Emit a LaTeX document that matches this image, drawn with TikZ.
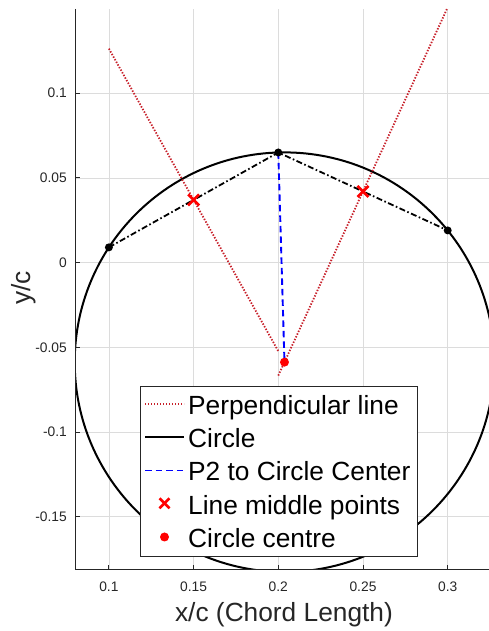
\documentclass[tikz,border=0pt]{standalone}
\usepackage{fontspec}
\setmainfont{Liberation Sans}
\usetikzlibrary{calc}
\definecolor{axgray}{HTML}{262626}
\definecolor{gridgray}{HTML}{DCDCDC}
\definecolor{perpred}{rgb}{0.78,0.12,0.16}
\tikzset{
  gridline/.style={gridgray, line width=0.7pt},
  axisline/.style={axgray, line width=1pt},
  ticklbl/.style={axgray, inner sep=0pt, font=\fontsize{13.8}{16}\selectfont},
  circ/.style={black, line width=2pt},
  chord/.style={black, line width=1.8pt, dash pattern=on 6pt off 2.5pt on 1.6pt off 2.5pt},
  perp/.style={perpred, line width=1.8pt, dash pattern=on 1.4pt off 1.6pt},
  p2c/.style={blue, line width=1.9pt, dash pattern=on 6.5pt off 4pt},
  ptdot/.style={circle, fill=black, inner sep=0pt, minimum size=8pt},
  cdot/.style={circle, fill=red, inner sep=0pt, minimum size=9pt},
  xmark/.style={red, line width=2.6pt},
  legendbox/.style={draw=axgray, fill=white, line width=0.9pt},
  legtxt/.style={anchor=base west, inner sep=0pt, font=\fontsize{26.3}{30}\selectfont, text=black},
  axlbl/.style={inner sep=0pt, font=\fontsize{26.3}{30}\selectfont, text=axgray}
}
\begin{document}
\begin{tikzpicture}[x=1pt,y=1pt]
\useasboundingbox (0,0) rectangle (488,631);
\begin{scope}[shift={(-60.5pt,368.4pt)}, x=1694pt, y=1694pt]
  % grid
  \foreach \gx in {0.1,0.15,0.2,0.25,0.3}
    \draw[gridline] (\gx,-0.1812) -- (\gx,0.1497);
  \foreach \gy in {-0.15,-0.1,-0.05,0,0.05,0.1}
    \draw[gridline] (0.08,\gy) -- (0.34,\gy);
  % data
  \coordinate (P1) at (0.1,0.009);
  \coordinate (P2) at (0.2,0.065);
  \coordinate (P3) at (0.3,0.019);
  \coordinate (M1) at (0.15,0.037);
  \coordinate (M2) at (0.25,0.042);
  \coordinate (C) at (0.20364,-0.05878);
  \coordinate (L1a) at (0.1,0.12629);
  \coordinate (L1b) at (0.2,-0.05229);
  \coordinate (L2a) at (0.2,-0.0667);
  \coordinate (L2b) at (0.3,0.1507);
  \begin{scope}
    \clip (0.08,-0.1812) rectangle (0.36,0.1497);
    \draw[circ] (C) circle[radius=0.12383];
    \draw[perp] (L1a) -- (L1b);
    \draw[perp] (L2a) -- (L2b);
  \end{scope}
  \draw[chord] (P1) -- (P2) -- (P3);
  \draw[p2c] (P2) -- (C);
  \node[ptdot] (n1) at (P1) {};
  \node[ptdot] (n2) at (P2) {};
  \node[ptdot] (n3) at (P3) {};
  \foreach \m in {M1,M2} {
    \draw[xmark] ($(\m)+(-5.5pt,-5.5pt)$) -- ($(\m)+(5.5pt,5.5pt)$);
    \draw[xmark] ($(\m)+(-5.5pt,5.5pt)$) -- ($(\m)+(5.5pt,-5.5pt)$);
  }
  \node[cdot] (nc) at (C) {};
  % axes
  \draw[axisline] (0.08,0.1497) -- (0.08,-0.1812) -- (0.34,-0.1812);
  \foreach \gx in {0.1,0.15,0.2,0.25,0.3} {
    \draw[axisline] (\gx,-0.1812) -- ++(0,5pt);
    \node[ticklbl] at ($(\gx,-0.1812)+(0,-17pt)$) {\gx};
  }
  \foreach \gy in {-0.15,-0.1,-0.05,0,0.05,0.1} {
    \draw[axisline] (0.08,\gy) -- ++(5pt,0);
    \node[ticklbl, anchor=east] at ($(0.08,\gy)+(-8pt,0)$) {\gy};
  }
\end{scope}
% axis labels
\node[axlbl, anchor=base] (xl) at (284,9.3) {x/c (Chord Length)};
\node[axlbl, rotate=90] (yl) at (24,343) {y/c};
% legend
\draw[legendbox] (140.7,245) rectangle (417,75);
\draw[perp] (145,227) -- (184,227);
\node[legtxt] (t1) at (188,216.5) {Perpendicular line};
\draw[circ] (145,193.7) -- (184,193.7);
\node[legtxt] (t2) at (188,183.2) {Circle};
\draw[p2c] (145,160.5) -- (184,160.5);
\node[legtxt] (t3) at (188,150) {P2 to Circle Center};
\draw[xmark] (159.5,122.7) -- (169.5,132.7);
\draw[xmark] (159.5,132.7) -- (169.5,122.7);
\node[legtxt] (t4) at (188,116.7) {Line middle points};
\node[cdot] (lc) at (164.5,94) {};
\node[legtxt] (t5) at (188,83.5) {Circle centre};
\end{tikzpicture}
\end{document}
